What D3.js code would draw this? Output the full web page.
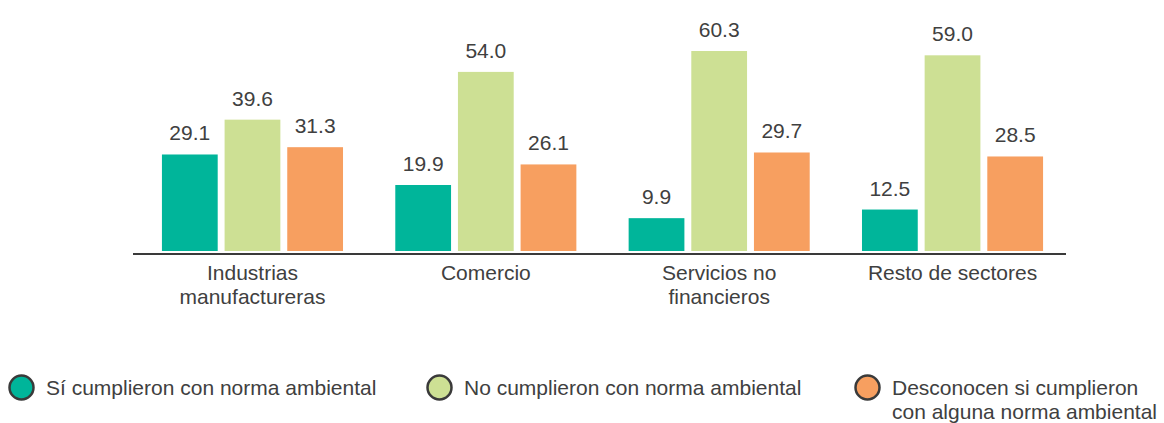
<!DOCTYPE html>
<html>
<head>
<meta charset="utf-8">
<script src="https://cdn.jsdelivr.net/npm/d3@7"></script>
<style>
  html, body { margin: 0; padding: 0; background: #fff; }
  svg { display: block; font-family: "Liberation Sans", Arial, sans-serif; }
</style>
</head>
<body>
<svg id="chart" width="1164" height="423"></svg>
<script>
// Sectors (two-line labels split on "|")
const categories = ["Industrias|manufactureras", "Comercio", "Servicios no|financieros", "Resto de sectores"];
const seriesNames = [
  "Sí cumplieron con norma ambiental",
  "No cumplieron con norma ambiental",
  "Desconocen si cumplieron|con alguna norma ambiental"
];
const cumplieron = [29.1, 19.9, 9.9, 12.5];
const noCumplieron = [39.6, 54.0, 60.3, 59.0];
const desconocen = [31.3, 26.1, 29.7, 28.5];
const colors = ["#00B59A", "#CDE094", "#F79F60"];

const series = [cumplieron, noCumplieron, desconocen];

const svg = d3.select("#chart");
const textColor = "#404040";
const fontSize = 21;

const x0 = d3.scaleBand().domain(d3.range(categories.length)).range([133, 1072]).paddingInner(0.224).paddingOuter(0.124);
const x1 = d3.scaleBand().domain(d3.range(series.length)).range([0, x0.bandwidth()]).paddingInner(0.11);
const y = d3.scaleLinear().domain([0, 60.3]).range([251, 51]);

// Bars and value labels
const groups = svg.selectAll("g.group").data(categories).join("g")
  .attr("class", "group")
  .attr("transform", (d, i) => `translate(${x0(i)},0)`);

groups.each(function(c, ci) {
  const g = d3.select(this);
  series.forEach((vals, si) => {
    const v = vals[ci];
    g.append("rect")
      .attr("x", x1(si))
      .attr("y", y(v))
      .attr("width", x1.bandwidth())
      .attr("height", y(0) - y(v))
      .attr("fill", colors[si]);
    g.append("text")
      .attr("x", x1(si) + x1.bandwidth() / 2)
      .attr("y", y(v) - 14)
      .attr("text-anchor", "middle")
      .attr("font-size", fontSize)
      .attr("fill", textColor)
      .text(d3.format(".1f")(v));
  });
});

// Baseline
svg.append("line")
  .attr("x1", 133).attr("x2", 1066)
  .attr("y1", 254).attr("y2", 254)
  .attr("stroke", "#3a3a3a").attr("stroke-width", 2);

// Category labels
categories.forEach((c, i) => {
  const cx = x0(i) + x0.bandwidth() / 2;
  const t = svg.append("text")
    .attr("x", cx)
    .attr("y", 280)
    .attr("text-anchor", "middle")
    .attr("font-size", fontSize)
    .attr("fill", textColor);
  c.split("|").forEach((line, li) => {
    t.append("tspan").attr("x", cx).attr("dy", li === 0 ? 0 : 24).text(line);
  });
});

// Legend
const legendX = [21.5, 439.5, 867.5];
seriesNames.forEach((name, i) => {
  svg.append("circle")
    .attr("cx", legendX[i]).attr("cy", 387.5).attr("r", 12)
    .attr("fill", colors[i]).attr("stroke", "#3a3a3a").attr("stroke-width", 2.5);
  const t = svg.append("text")
    .attr("x", legendX[i] + 24.5).attr("y", 395)
    .attr("font-size", fontSize).attr("fill", textColor);
  name.split("|").forEach((line, li) => {
    t.append("tspan").attr("x", legendX[i] + 24.5).attr("dy", li === 0 ? 0 : 24).text(line);
  });
});
</script>
</body>
</html>
